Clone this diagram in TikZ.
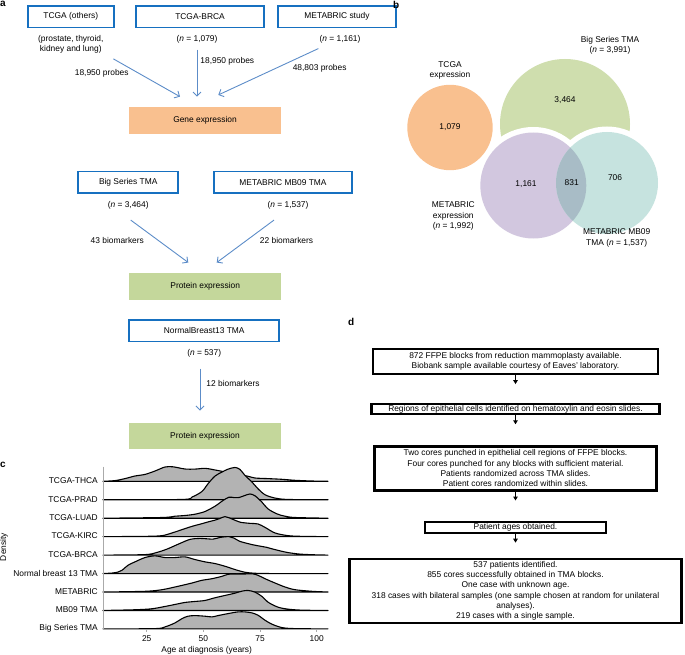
\documentclass[tikz,border=0pt]{standalone}
\usepackage{fontspec}
\setmainfont{Liberation Sans}
\usetikzlibrary{arrows.meta,positioning}

\definecolor{boxblue}{RGB}{22,112,192}
\definecolor{arrblue}{RGB}{92,140,200}
\definecolor{geneorange}{RGB}{249,192,143}
\definecolor{protgreen}{RGB}{196,215,155}
\definecolor{vgreen}{RGB}{207,222,174}
\definecolor{vpurple}{RGB}{210,199,223}
\definecolor{vteal}{RGB}{198,227,223}
\definecolor{vboth}{RGB}{168,188,198}
\definecolor{ridgegray}{RGB}{179,179,179}
\definecolor{axisgray}{RGB}{170,170,170}

\begin{document}
\begin{tikzpicture}[
  x=1pt, y=-1pt,
  every node/.style={font=\fontsize{8.4}{10.3}\selectfont, inner sep=1pt},
  srcbox/.style={
    draw=boxblue,
    line width=1.8pt,
    minimum height=21.5pt
  },
  resbox/.style={minimum width=151.7pt, minimum height=26.5pt},
  arr/.style={draw=arrblue, line width=0.9pt, -{Straight Barb[length=4pt,width=8pt]}},
  stepbox/.style={
    draw,
    line width=2.2pt,
    align=center,
    inner sep=1pt
  },
  darr/.style={line width=1.2pt, -{Triangle[length=4pt,width=4.5pt]}},
  ridge/.style={fill=ridgegray, draw=black, line width=1.1pt, line join=round},
  panel/.style={font=\fontsize{10}{12}\selectfont\bfseries, inner sep=0pt, anchor=north west}
]
\useasboundingbox (0,0) rectangle (685,655);

% a
\node[panel] (la) at (0,1) {a};

\node[srcbox, minimum width=86pt] (a1) at (70.8,16.7) {TCGA (others)};
\node[srcbox, minimum width=128pt] (a2) at (200,16.7) {TCGA-BRCA};
\node[srcbox, minimum width=118pt] (a3) at (337,16.7) {METABRIC study};

\node[align=center, below=6pt of a1] (l1) {(prostate, thyroid,\\kidney and lung)};
\node[below=6pt of a2, xshift=-3pt] (l2) {(\textit{n} = 1,079)};
\node[below=6pt of a3, xshift=3pt] (l3) {(\textit{n} = 1,161)};

\node[resbox, fill=geneorange] (g1) at (205,120.7) {Gene expression};

\draw[arr] ([shift={(8.7,4)}]l1.south east) -- ([shift={(-25,-10.6)}]g1.north)
  node[pos=0.37, left=8pt] (t1) {18,950 probes};
\draw[arr] ([shift={(0,5)}]l2.south) -- ([shift={(-8,-10.6)}]g1.north)
  node[pos=0.25, right=2pt] (t2) {18,950 probes};
\draw[arr] ([shift={(0,4)}]l3.south west) -- ([shift={(13.3,-12.3)}]g1.north)
  node[pos=0.42, right=15pt] (t3) {48,803 probes};

\node[srcbox, minimum width=100pt] (b1) at (128.2,182.3) {Big Series TMA};
\node[srcbox, minimum width=138pt] (b2) at (283,182.3) {METABRIC MB09 TMA};
\node[below=6pt of b1] (l4) {(\textit{n} = 3,464)};
\node[below=6pt of b2, xshift=5pt] (l5) {(\textit{n} = 1,537)};

\node[resbox, fill=protgreen] (p1) at (205.2,286.7) {Protein expression};

\draw[arr] ([shift={(2.5,9.9)}]l4.south) -- ([shift={(-16.9,-10.7)}]p1.north)
  node[pos=0.48, left=13pt] (t4) {43 biomarkers};
\draw[arr] ([shift={(-14,9.9)}]l5.south) -- ([shift={(11.5,-10.7)}]p1.north)
  node[pos=0.48, right=12pt] (t5) {22 biomarkers};

\node[srcbox, minimum width=150pt] (n1) at (204.2,330.8) {NormalBreast13 TMA};
\node[below=6pt of n1] (l6) {(\textit{n} = 537)};
\node[resbox, fill=protgreen] (p2) at (205,436) {Protein expression};

\draw[arr] ([shift={(-4.2,9.9)}]l6.south) -- ([shift={(-5,-12)}]p2.north)
  node[pos=0.36, right=5pt] (t6) {12 biomarkers};

% b
\node[panel] (lb) at (393,1) {b};

\fill[vgreen] (565,124) circle[radius=65pt];
\fill[white] (533.3,185.5) circle[radius=58.5pt];
\fill[white] (607,183) circle[radius=56.5pt];
\fill[vpurple] (533.3,185.5) circle[radius=53pt];
\fill[vteal] (607,183) circle[radius=51pt];
\begin{scope}
  \clip (533.3,185.5) circle[radius=53pt];
  \fill[vboth] (607,183) circle[radius=51pt];
\end{scope}
\fill[geneorange] (450,127.5) circle[radius=42.7pt];

\node[align=center] (vt) at (450,70.5) {TCGA\\expression};
\node[align=center] (vb) at (610,45.5) {Big Series TMA\\(\textit{n} = 3,991)};
\node (v1) at (450,127.3) {1,079};
\node (v2) at (565,100) {3,464};
\node (v3) at (526,184.3) {1,161};
\node (v4) at (571.7,182.3) {831};
\node (v5) at (615,177.3) {706};
\node[align=center] (vm) at (453.3,216.2) {METABRIC\\expression\\(\textit{n} = 1,992)};
\node[align=center] (vmb) at (616.7,238) {METABRIC MB09\\TMA (\textit{n} = 1,537)};

% c
\node[panel] (lc) at (0,462) {c};
\node[rotate=90] (dens) at (4,547) {Density};

\filldraw[ridge, shift={(0,481.3)}] plot[smooth] coordinates {(103,0) (115,-0.7) (125,-2.7) (135,-5.3) (145,-6.9) (155,-10.3) (165,-14.3) (173,-14.5) (185,-12.3) (195,-12.2) (205,-13) (213,-11.7) (222,-10) (232,-8) (247,-5.3) (255,-3.3) (268,-2.7) (282,-2) (295,-1) (312,-0.3) (328,0)} -- cycle;
\filldraw[ridge, shift={(0,499.75)}] plot[smooth] coordinates {(103,0) (182,-0.3) (192,-2.7) (202,-8.3) (208,-16) (215,-23.7) (222,-27.7) (228,-30.6) (235,-32.3) (240,-30.3) (245,-24.3) (252,-17.7) (258,-11) (265,-5) (275,-1.7) (288,-0.3) (328,0)} -- cycle;
\filldraw[ridge, shift={(0,518.2)}] plot[smooth] coordinates {(103,0) (162,-0.7) (175,-2) (185,-2.7) (195,-4) (205,-6.7) (215,-12) (223,-17.7) (229,-21) (234,-20.6) (239,-20.7) (244,-22.4) (250,-24.2) (255,-22.4) (262,-16) (268,-9.3) (277,-4.3) (285,-2) (295,-0.7) (328,0)} -- cycle;
\filldraw[ridge, shift={(0,536.65)}] plot[smooth] coordinates {(103,0) (145,-0.3) (162,-1) (172,-3.7) (182,-7) (192,-10.3) (202,-13) (209,-15) (215,-16.5) (220,-18.2) (225,-20) (232,-17.7) (240,-14.5) (250,-13.3) (258,-12.7) (265,-9.3) (275,-3.7) (288,-1) (302,-0.3) (328,0)} -- cycle;
\filldraw[ridge, shift={(0,555.1)}] plot[smooth] coordinates {(103,0) (145,-0.5) (157,-2.7) (167,-6) (180,-11.7) (190,-15.7) (200,-16.7) (213,-16) (220,-17.7) (229,-18.5) (234,-17) (240,-13.7) (253,-10.3) (267,-7.7) (273,-6) (287,-2.7) (300,-1) (315,-0.3) (328,0)} -- cycle;
\filldraw[ridge, shift={(0,573.55)}] plot[smooth] coordinates {(103,0) (112,-0.5) (118,-1.5) (122,-3.3) (128,-8.3) (135,-11.7) (145,-16) (155,-17.7) (165,-16) (175,-16) (185,-16.7) (195,-14) (205,-11.7) (215,-10) (225,-7.3) (235,-4) (245,-1.3) (255,-0.3) (270,0) (328,0)} -- cycle;
\filldraw[ridge, shift={(0,592)}] plot[smooth] coordinates {(103,0) (145,-0.7) (162,-2.3) (178,-5.7) (192,-9) (202,-11.7) (212,-13.3) (222,-15.7) (228,-17.7) (235,-18) (245,-18) (252,-18.3) (258,-16.7) (265,-13.3) (275,-9) (285,-5) (295,-2.3) (312,-0.7) (328,0)} -- cycle;
\filldraw[ridge, shift={(0,610.45)}] plot[smooth] coordinates {(103,0) (135,-0.7) (152,-1.7) (165,-4) (175,-6) (185,-8) (195,-9) (205,-10) (215,-12.7) (225,-15) (235,-17.3) (242,-19.3) (248,-20) (255,-18.3) (262,-14) (268,-8.3) (278,-3.3) (288,-1.3) (302,-0.3) (328,0)} -- cycle;
\filldraw[ridge, shift={(0,628.9)}] plot[smooth] coordinates {(103,0) (155,-0.3) (165,-2) (175,-6) (182,-10.3) (188,-12.7) (195,-13.3) (205,-12.7) (212,-12) (218,-13.3) (228,-15.3) (238,-17) (245,-17) (252,-16) (258,-13.7) (265,-8.7) (272,-4.7) (282,-1.3) (295,-0.3) (328,0)} -- cycle;

\draw[axisgray, line width=0.6pt] (103.3,466.7) -- (103.3,629.5);
\draw[axisgray, line width=0.6pt] (146.7,629.5) -- (146.7,632) (203.3,629.5) -- (203.3,632)
  (260,629.5) -- (260,632) (316.7,629.5) -- (316.7,632);

\node[anchor=east] (r1) at (99,480.8) {TCGA-THCA};
\node[anchor=east] (r2) at (99,499.2) {TCGA-PRAD};
\node[anchor=east] (r3) at (99,517.7) {TCGA-LUAD};
\node[anchor=east] (r4) at (99,536.1) {TCGA-KIRC};
\node[anchor=east] (r5) at (99,554.6) {TCGA-BRCA};
\node[anchor=east] (r6) at (99,573) {Normal breast 13 TMA};
\node[anchor=east] (r7) at (99,591.5) {METABRIC};
\node[anchor=east] (r8) at (99,609.9) {MB09 TMA};
\node[anchor=east] (r9) at (99,628.4) {Big Series TMA};

\node (x1) at (146.7,638.5) {25};
\node (x2) at (203.3,638.5) {50};
\node (x3) at (260,638.5) {75};
\node (x4) at (316.7,638.5) {100};
\node (xt) at (206.7,650) {Age at diagnosis (years)};

% d
\node[panel] (ld) at (348,318) {d};

\node[stepbox, minimum width=285pt, minimum height=25pt] (d1) at (515.5,361.5)
{872 FFPE blocks from reduction mammoplasty available.\\ Biobank sample available courtesy of Eaves’ laboratory.};
\node[stepbox, minimum width=288pt, minimum height=10pt, below=28pt of d1] (d2)
{Regions of epithelial cells identified on hematoxylin and eosin slides.};
\node[stepbox, minimum width=282pt, minimum height=44pt, below=30pt of d2] (d3)
{Two cores punched in epithelial cell regions of FFPE blocks.\\ Four cores punched for any blocks with sufficient material.\\ Patients randomized across TMA slides.\\ Patient cores randomized within slides.};
\node[stepbox, minimum width=181pt, minimum height=11pt, below=29pt of d3] (d4)
{Patient ages obtained.};
\node[stepbox, minimum width=332pt, minimum height=64pt, below=24pt of d4] (d5)
{537 patients identified.\\ 855 cores successfully obtained in TMA blocks.\\ One case with unknown age.\\ 318 cases with bilateral samples (one sample chosen at random for unilateral\\ analyses).\\ 219 cases with a single sample.};

\coordinate[below=9pt of d1.south] (e1);
\coordinate[below=9pt of d2.south] (e2);
\coordinate[below=9pt of d3.south] (e3);
\coordinate[below=9pt of d4.south] (e4);

\draw[darr] (d1) -- (e1);
\draw[darr] (d2) -- (e2);
\draw[darr] (d3) -- (e3);
\draw[darr] (d4) -- (e4);

\end{tikzpicture}
\end{document}
